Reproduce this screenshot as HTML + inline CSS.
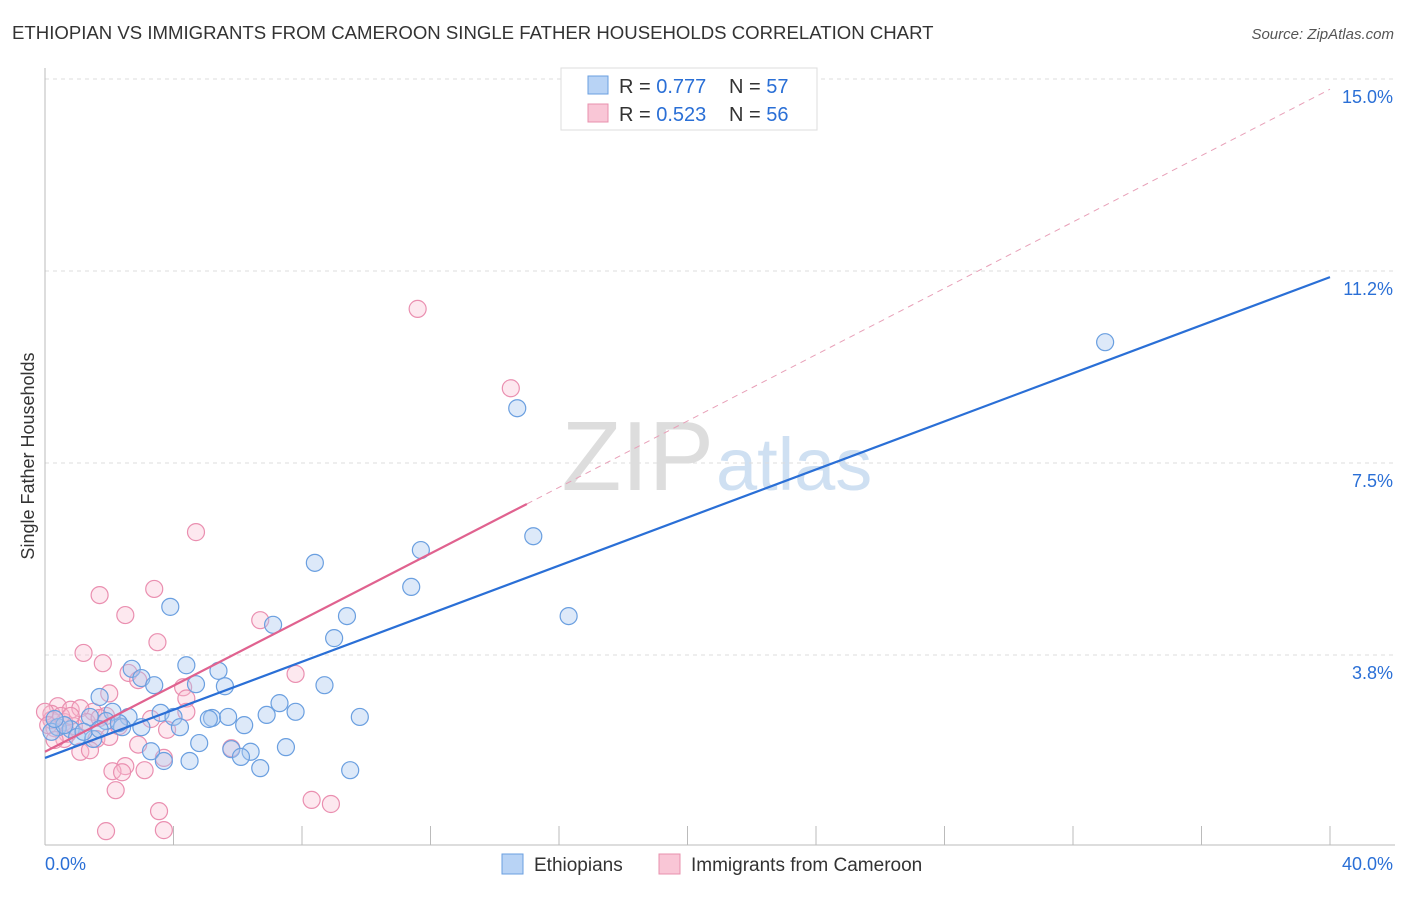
<!DOCTYPE html>
<html><head><meta charset="utf-8"><style>
body{margin:0;background:#fff;font-family:"Liberation Sans",sans-serif;}
svg text{font-family:"Liberation Sans",sans-serif;}
</style></head><body>
<svg width="1406" height="892">
<text x="12" y="39" font-size="18.6" fill="#333">ETHIOPIAN VS IMMIGRANTS FROM CAMEROON SINGLE FATHER HOUSEHOLDS CORRELATION CHART</text>
<text x="1394" y="39" font-size="15" fill="#555" text-anchor="end" font-style="italic">Source: ZipAtlas.com</text>
<text x="714" y="490" font-size="98" fill="#ddd" text-anchor="end" font-family="Liberation Serif">ZIP</text>
<text x="716" y="490" font-size="74" fill="#cfe0f2">atlas</text>
<g id="grid"></g>
<g id="axes"></g>
<g id="pts"></g>
<g id="lines"></g>
<text x="34" y="456" font-size="18" fill="#333" text-anchor="middle" transform="rotate(-90 34 456)">Single Father Households</text>
<g>
<rect x="561" y="68" width="256" height="62" fill="#fff" stroke="#ddd"/>
<rect x="588" y="76" width="20" height="18" fill="#b8d3f5" stroke="#6a9fe0"/>
<rect x="588" y="104" width="20" height="18" fill="#f9c6d6" stroke="#e890ad"/>
<text x="619" y="93" font-size="20" fill="#333">R = <tspan fill="#2a6fd6">0.777</tspan></text>
<text x="729" y="93" font-size="20" fill="#333">N = <tspan fill="#2a6fd6">57</tspan></text>
<text x="619" y="121" font-size="20" fill="#333">R = <tspan fill="#2a6fd6">0.523</tspan></text>
<text x="729" y="121" font-size="20" fill="#333">N = <tspan fill="#2a6fd6">56</tspan></text>
</g>
<g>
<rect x="502" y="854" width="21" height="20" fill="#b8d3f5" stroke="#6a9fe0"/>
<text x="534" y="871" font-size="19" fill="#333">Ethiopians</text>
<rect x="659" y="854" width="21" height="20" fill="#f9c6d6" stroke="#e890ad"/>
<text x="691" y="871" font-size="19" fill="#333">Immigrants from Cameroon</text>
</g>
</svg>
<script>
const yTicks=[3.75,7.5,11.25,15];
const yTickLabels=["3.8%","7.5%","11.2%","15.0%"];
const xTicks=[0,4,8,12,16,20,24,28,32,36,40];
const ethX=[33,14.7,15.2,11.7,8.4,11.4,16.3,9.4,3.9,7.1,9.0,4.4,2.7,5.4,3.0,3.4,4.7,5.6,8.7,1.7,7.3,2.1,3.6,2.6,6.9,7.8,5.2,5.1,5.7,9.8,4.0,1.4,1.9,2.4,4.2,3.0,6.2,0.4,0.8,0.2,1.0,1.5,4.8,3.3,5.8,6.4,7.5,6.1,3.7,4.5,6.7,9.5,0.6,0.3,1.2,2.3,1.7];
const ethY=[9.86,8.57,6.07,5.8,5.55,5.08,4.51,4.51,4.69,4.34,4.08,3.55,3.48,3.44,3.3,3.16,3.18,3.14,3.16,2.93,2.81,2.64,2.62,2.54,2.58,2.64,2.52,2.5,2.54,2.54,2.54,2.54,2.46,2.34,2.34,2.34,2.38,2.34,2.3,2.25,2.15,2.11,2.03,1.87,1.91,1.86,1.95,1.76,1.68,1.68,1.54,1.5,2.38,2.5,2.25,2.42,2.3];
const camX=[11.6,14.5,4.7,3.4,1.7,2.5,6.7,3.5,1.2,1.8,7.8,2.6,2.9,2.0,4.3,4.4,4.4,0.4,0.2,0.8,1.5,1.1,1.9,3.3,3.8,0.6,0.3,0.2,0.7,1.6,2.0,2.9,1.1,1.4,3.7,5.8,2.5,2.1,3.1,2.4,2.2,3.55,8.3,8.9,1.9,3.7,0.5,0.9,1.3,0.6,1.7,0,0.1,0.8,2.3,0.3];
const camY=[10.51,8.96,6.15,5.04,4.92,4.53,4.43,4.0,3.79,3.59,3.38,3.4,3.26,3.0,3.12,2.9,2.64,2.75,2.6,2.68,2.64,2.71,2.56,2.5,2.29,2.44,2.32,2.48,2.21,2.11,2.15,2.0,1.86,1.89,1.74,1.93,1.58,1.48,1.5,1.46,1.11,0.7,0.92,0.84,0.31,0.33,2.56,2.36,2.44,2.11,2.52,2.64,2.38,2.56,2.36,2.09];
const ethFit=[1.74,11.13];
const camFit=[1.86,6.7,14.8];
const X=v=>45+v*32.125, Y=v=>847-v*51.2;
const NS="http://www.w3.org/2000/svg";
function mk(parent,tag,attrs){const e=document.createElementNS(NS,tag);for(const k in attrs)e.setAttribute(k,attrs[k]);document.getElementById(parent).appendChild(e);return e;}
yTicks.forEach((t,i)=>{
 const l=mk('grid','line',{x1:45,x2:1395,y1:Y(t),y2:Y(t),stroke:'#ddd','stroke-dasharray':'4,4'});
 
 
 const tx=mk('grid','text',{x:1393,y:Y(t)+24,'font-size':18,fill:'#2a6fd6','text-anchor':'end'});
 tx.textContent=yTickLabels[i];
 
 
});
const ax=mk('axes','line',{x1:45,x2:1395,y1:845,y2:845,stroke:'#bbb'});


const ay=mk('axes','line',{x1:45,x2:45,y1:68,y2:845,stroke:'#bbb'});


xTicks.forEach(t=>{
 const l=mk('axes','line',{x1:X(t),x2:X(t),y1:826,y2:845,stroke:'#bbb'});
 
 
});
[["0.0%",45,'start'],["40.0%",1393,'end']].forEach(a=>{
 const t=mk('axes','text',{x:a[1],y:870,'font-size':18,fill:'#2a6fd6','text-anchor':a[2]});
 t.textContent=a[0];
 
 
});
camX.forEach((v,i)=>{
 const c=mk('pts','circle',{cx:X(v),cy:Y(camY[i]),r:8.5,fill:'rgba(249,190,210,0.35)',stroke:'#ea8fb0','stroke-width':1.2});
 
 
});
ethX.forEach((v,i)=>{
 const c=mk('pts','circle',{cx:X(v),cy:Y(ethY[i]),r:8.5,fill:'rgba(170,200,240,0.4)',stroke:'#6a9fe0','stroke-width':1.2});
 
 
});
const bl=mk('lines','line',{x1:X(0),y1:Y(ethFit[0]),x2:X(40),y2:Y(ethFit[1]),stroke:'#2a6fd6','stroke-width':2.2});


const pl=mk('lines','line',{x1:X(0),y1:Y(camFit[0]),x2:X(15),y2:Y(camFit[1]),stroke:'#e0628f','stroke-width':2.2});


const pd=mk('lines','line',{x1:X(15),y1:Y(camFit[1]),x2:X(40),y2:Y(camFit[2]),stroke:'#e8a0b8','stroke-width':1,'stroke-dasharray':'6,5'});


</script>
</body></html>
